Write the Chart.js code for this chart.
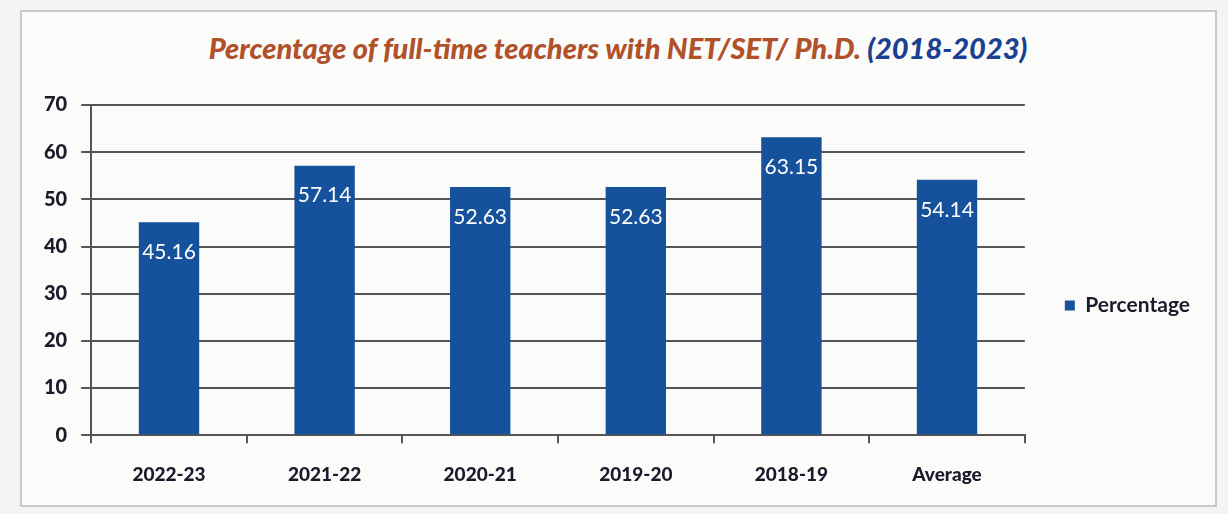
<!DOCTYPE html>
<html>
<head>
<meta charset="utf-8">
<script src="https://cdn.jsdelivr.net/npm/chart.js@4.4.1/dist/chart.umd.min.js"></script>
<style>
  html, body { margin: 0; padding: 0; background: #f4f4f2; }
  #wrap { position: relative; width: 1228px; height: 514px; }
  #frame { position: absolute; left: 20px; top: 10px; width: 1193px; height: 493px; border: 2px solid #c9c9c9; background: #fbfbfa; }
  #title { position: absolute; left: 0; width: 1236px; top: 30px; text-align: center; font-family: Lato, sans-serif; font-style: italic; font-weight: 900; font-size: 29px; color: #b0512a; }
  #title span { color: #1b3f91; }
  #chart { position: absolute; left: 0; top: 0; }
</style>
</head>
<body>
<div id="wrap">
  <div id="frame"></div>
  <div id="title">Percentage of full-time teachers with NET/SET/ Ph.D. <span>(2018-2023)</span></div>
  <canvas id="chart" width="1228" height="514"></canvas>
</div>
<script>
const categories = ['2022-23', '2021-22', '2020-21', '2019-20', '2018-19', 'Average'];
const percentage = [45.16, 57.14, 52.63, 52.63, 63.15, 54.14];
const yTicks = [0, 10, 20, 30, 40, 50, 60, 70];

const barLabels = {
  id: 'barLabels',
  afterDatasetsDraw(chart) {
    const ctx = chart.ctx;
    const meta = chart.getDatasetMeta(0);
    ctx.save();
    ctx.fillStyle = '#ffffff';
    ctx.font = '21px Lato, sans-serif';
    ctx.textAlign = 'center';
    ctx.textBaseline = 'middle';
    meta.data.forEach((bar, i) => {
      const p = bar.getProps(['x', 'y'], true);
      ctx.fillText(percentage[i].toFixed(2), p.x, p.y + 30);
    });
    ctx.restore();
  }
};

new Chart(document.getElementById('chart'), {
  type: 'bar',
  data: {
    labels: categories,
    datasets: [{
      label: 'Percentage',
      data: percentage,
      backgroundColor: '#16519c',
      borderWidth: 0,
      barPercentage: 0.4,
      categoryPercentage: 0.97
    }]
  },
  options: {
    responsive: false,
    animation: false,
    layout: { padding: { left: 30, top: 105, right: 28, bottom: 8 } },
    plugins: {
      legend: {
        position: 'right',
        labels: {
          color: '#1a1a2a',
          font: { family: 'Lato, sans-serif', size: 21, weight: 'bold' },
          boxWidth: 10,
          boxHeight: 10,
          padding: 40
        }
      },
      title: { display: false },
      tooltip: { enabled: false }
    },
    scales: {
      y: {
        min: 0,
        max: 70,
        afterBuildTicks: (axis) => { axis.ticks = yTicks.map(v => ({ value: v })); },
        ticks: {
          color: '#1a1a2a',
          font: { family: 'Lato, sans-serif', size: 20, weight: 900 },
          padding: 14
        },
        grid: { color: '#555555', lineWidth: 2, tickLength: 10 },
        border: { color: '#555555', width: 2 }
      },
      x: {
        ticks: {
          color: '#1a1a2a',
          font: { family: 'Lato, sans-serif', size: 19, weight: 900 },
          padding: 20
        },
        grid: { drawOnChartArea: false, color: '#555555', lineWidth: 2, tickLength: 8 },
        border: { color: '#555555', width: 2 }
      }
    }
  },
  plugins: [barLabels]
});
</script>
</body>
</html>
